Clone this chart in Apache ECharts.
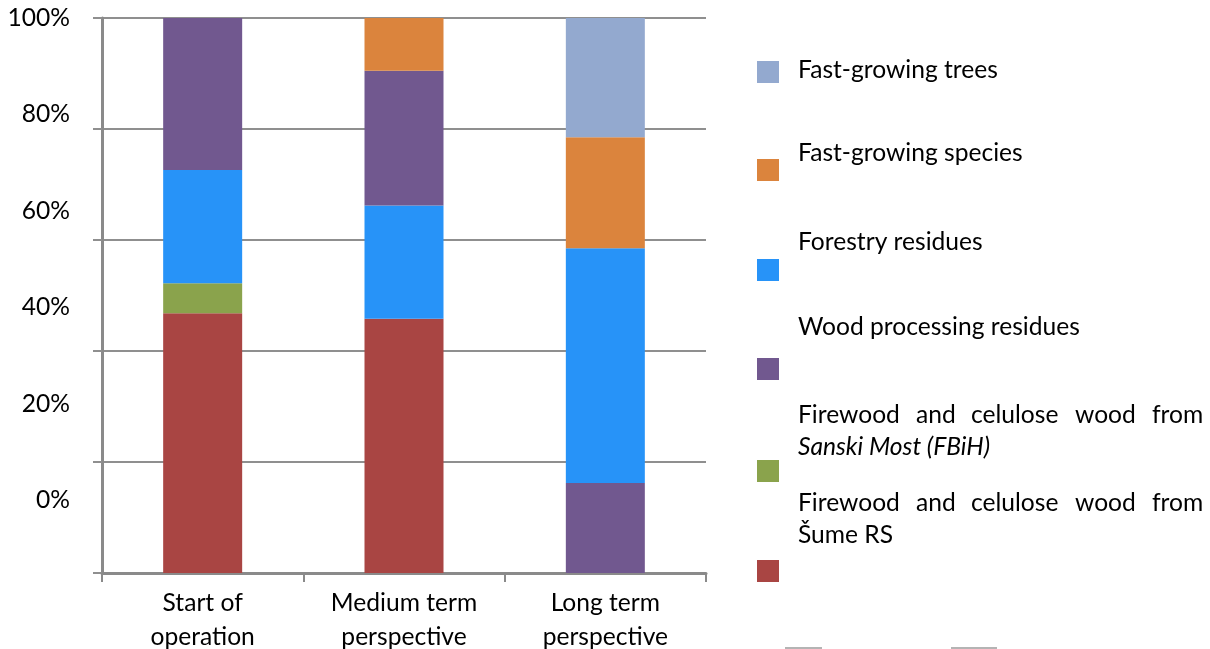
<!DOCTYPE html>
<html>
<head>
<meta charset="utf-8">
<script src="https://cdn.jsdelivr.net/npm/echarts@6/dist/echarts.min.js"></script>
<style>
  html, body { margin: 0; padding: 0; background: #fff; }
  #main { width: 1210px; height: 649px; }
</style>
</head>
<body>
<div id="main"></div>
<script>
// categories and shares (percent of total)
var categories = ['Start of\noperation', 'Medium term\nperspective', 'Long term\nperspective'];
var sumeRS = [46.8, 45.8, 0];
var sanskiMost = [5.4, 0, 0];
var forestryResidues = [20.4, 20.4, 42.3];
var woodProcessing = [27.4, 24.3, 16.2];
var fastSpecies = [0, 9.5, 20.0];
var fastTrees = [0, 0, 21.5];
// in the long term column the wood processing block sits under forestry residues
var woodBelowForestry = [false, false, true];
var yTicks = [0, 20, 40, 60, 80, 100];

var names = {
    sume: 'Firewood and celulose wood from Šume RS',
    sanski: 'Firewood and celulose wood from Sanski Most (FBiH)',
    forestry: 'Forestry residues',
    wood: 'Wood processing residues',
    species: 'Fast-growing species',
    trees: 'Fast-growing trees'
};
var colors = {
    sume: '#A94543',
    sanski: '#8AA34C',
    forestry: '#2793F8',
    wood: '#71588F',
    species: '#DB843D',
    trees: '#93A9CF'
};

var FONT = 'Lato';

function bar(key, data) {
    return {
        name: names[key],
        type: 'bar',
        stack: 'total',
        barWidth: 79,
        itemStyle: { color: colors[key] },
        data: data.map(function (v) { return v === 0 ? '-' : v; })
    };
}

var series = [
    bar('sume', sumeRS),
    bar('sanski', sanskiMost),
    bar('wood', woodProcessing.map(function (v, i) { return woodBelowForestry[i] ? v : 0; })),
    bar('forestry', forestryResidues),
    bar('wood', woodProcessing.map(function (v, i) { return woodBelowForestry[i] ? 0 : v; })),
    bar('species', fastSpecies),
    bar('trees', fastTrees)
];

// legend icons, one component each so they can sit where the picture has them
var legendKeys = ['trees', 'species', 'forestry', 'wood', 'sanski', 'sume'];
var legendTops = [61, 159, 259, 358, 460, 560];
var legends = legendKeys.map(function (k, i) {
    return {
        data: [names[k]],
        left: 757,
        top: legendTops[i],
        padding: 0,
        itemWidth: 22,
        itemHeight: 22,
        icon: 'rect',
        formatter: function () { return ''; },
        textStyle: { fontSize: 1 }
    };
});

function txt(x, y, s, italic) {
    return {
        type: 'text',
        left: x,
        top: y - 12,
        style: {
            text: s,
            fill: '#000',
            font: (italic ? 'italic ' : '') + '24.6px ' + FONT
        }
    };
}

var graphics = [
    txt(798, 70, 'Fast-growing trees'),
    txt(798, 153, 'Fast-growing species'),
    txt(798, 242, 'Forestry residues'),
    txt(798, 327, 'Wood processing residues'),
    txt(798, 447, 'Sanski Most (FBiH)', true),
    txt(798, 535, 'Šume RS')
];
var words = ['Firewood', 'and', 'celulose', 'wood', 'from'];
var wordX = [798, 916, 971, 1075, 1152];
[415, 503].forEach(function (y) {
    words.forEach(function (w, i) { graphics.push(txt(wordX[i], y, w)); });
});
graphics.push(
    { type: 'line', shape: { x1: 785, y1: 648, x2: 822, y2: 648 }, style: { stroke: '#b4b4b4', lineWidth: 2 } },
    { type: 'line', shape: { x1: 951, y1: 648, x2: 997, y2: 648 }, style: { stroke: '#b4b4b4', lineWidth: 2 } }
);

var myChart = echarts.init(document.getElementById('main'));
var option = {
    animation: false,
    backgroundColor: '#fff',
    grid: [
        { left: 102, right: 504, top: 18, bottom: 76, outerBoundsMode: 'none' },
        // the tick labels in the picture do not line up with the gridlines
        { left: 102, right: 504, top: 18, height: 482, outerBoundsMode: 'none' }
    ],
    legend: legends,
    xAxis: [
        {
            type: 'category',
            data: categories,
            axisLine: { lineStyle: { color: '#8a8a8a', width: 3 } },
            axisTick: { show: true, length: 9, lineStyle: { color: '#8a8a8a', width: 2 } },
            axisLabel: { color: '#000', fontSize: 24.6, fontFamily: FONT, lineHeight: 34, margin: 13 }
        },
        { type: 'category', gridIndex: 1, data: categories, show: false }
    ],
    yAxis: [
        {
            type: 'value',
            min: 0,
            max: 100,
            interval: 20,
            axisLine: { show: true, lineStyle: { color: '#8a8a8a', width: 3 } },
            axisTick: { show: true, length: 9, lineStyle: { color: '#8f8f8f', width: 2 } },
            axisLabel: { show: false },
            splitLine: { show: true, lineStyle: { color: '#8f8f8f', width: 2 } }
        },
        {
            type: 'value',
            gridIndex: 1,
            min: yTicks[0],
            max: yTicks[yTicks.length - 1],
            interval: yTicks[1] - yTicks[0],
            axisLine: { show: false },
            axisTick: { show: false },
            splitLine: { show: false },
            axisLabel: {
                color: '#000', fontSize: 24.6, fontFamily: FONT, margin: 32,
                formatter: function (v) { return v + '%'; }
            }
        }
    ],
    series: series,
    graphic: graphics
};
myChart.setOption(option);
</script>
</body>
</html>
